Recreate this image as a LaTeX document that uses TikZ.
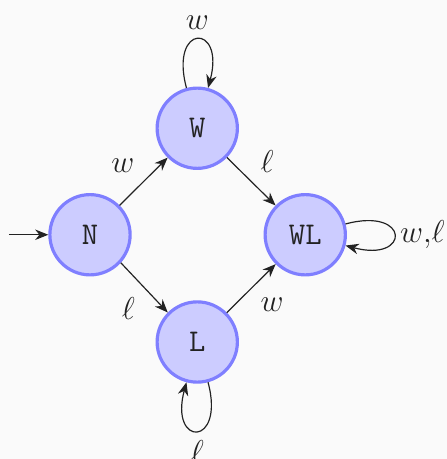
\documentclass[tikz,border=0pt]{standalone}
\usepackage{xcolor}
\usepackage{tikz}
\usetikzlibrary{arrows.meta}
\definecolor{Paper}{HTML}{FAFAFA}
\definecolor{Ink}{HTML}{222222}
\definecolor{Ring}{HTML}{7F7FFF}
\definecolor{Disc}{HTML}{CCCCFF}

\begin{document}
\begin{tikzpicture}[x=1cm,y=1cm,>={Stealth[length=5pt,width=4pt]},
  statenode/.style={circle,draw=Ring,fill=Disc,line width=1.2pt,minimum size=1.07cm,inner sep=0pt,font=\large\ttfamily\color{Ink}},
  lbl/.style={font=\large\color{Ink}},
  move/.style={->,draw=Ink,line width=0.45pt}]
\path[use as bounding box] (0,0) rectangle (5.96,6.12);
\fill[Paper] (0,0) rectangle (5.96,6.12);

% states
\node[statenode] (N) at (1.2,2.99) {N};
\node[statenode] (W) at (2.63,4.41) {W};
\node[statenode] (WL) at (4.07,2.99) {WL};
\node[statenode] (L) at (2.63,1.56) {L};

% transitions
\coordinate (start) at (0.12,2.99);
\draw[move] (start) -- (N);
\draw[move] (N) -- node[lbl,above left]{$w$} (W);
\draw[move] (N) -- node[lbl,below left]{$\ell$} (L);
\draw[move] (W) -- node[lbl,above right]{$\ell$} (WL);
\draw[move] (L) -- node[lbl,below right]{$w$} (WL);
\draw[move] (W) to[loop above] node[lbl,above]{$w$} (W);
\draw[move] (L) to[loop below] node[lbl,below]{$\ell$} (L);
\draw[move] (WL) to[loop right] node[lbl,right,inner sep=2pt]{$w{,}\ell$} (WL);
\end{tikzpicture}
\end{document}
